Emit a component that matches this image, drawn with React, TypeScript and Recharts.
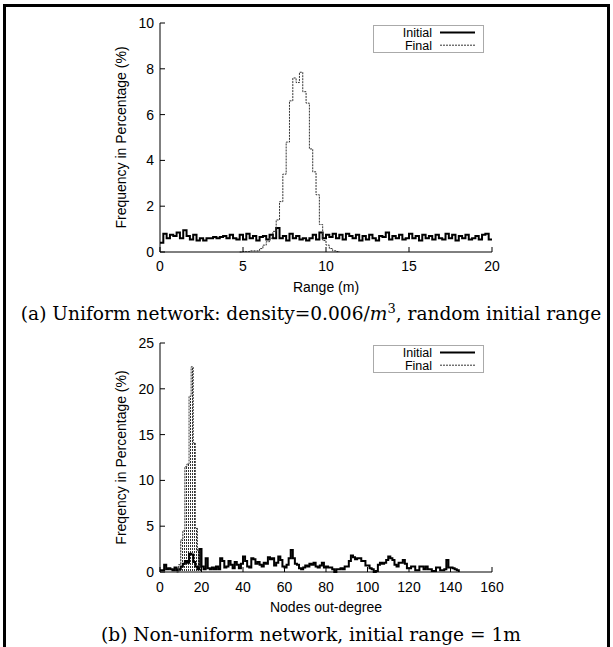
import React from "react";
import { ComposedChart, Line, Area, XAxis, YAxis, Legend } from "recharts";

// (a) range histogram, bins of 0.2 m
const RANGE_BIN = 0.2;
const rangeInitial = [
  0.4, 0.8, 0.6, 0.75, 0.7, 0.85, 0.6, 0.95, 0.7, 0.55,
  0.75, 0.5, 0.6, 0.5, 0.6, 0.6, 0.65, 0.6, 0.65, 0.7,
  0.6, 0.75, 0.6, 0.55, 0.75, 0.55, 0.8, 0.6, 0.7, 0.5,
  0.65, 0.7, 0.55, 0.75, 0.6, 1.05, 0.6, 0.7, 0.5, 0.8,
  0.6, 0.7, 0.55, 0.6, 0.5, 0.6, 0.75, 0.55, 0.85, 0.6,
  0.75, 0.65, 0.8, 0.6, 0.75, 0.55, 0.8, 0.7, 0.6, 0.75,
  0.5, 0.7, 0.55, 0.75, 0.6, 0.5, 0.7, 0.65, 0.85, 0.55,
  0.7, 0.6, 0.75, 0.55, 0.6, 0.8, 0.6, 0.7, 0.5, 0.75,
  0.6, 0.7, 0.55, 0.75, 0.6, 0.55, 0.8, 0.6, 0.75, 0.5,
  0.7, 0.6, 0.75, 0.55, 0.6, 0.7, 0.55, 0.75, 0.8, 0.55,
];
const rangeFinalStart = 24; // bin index of 4.8 m
const rangeFinal = [
  0, 0.02, 0.02, 0.05, 0.05, 0.05, 0.15, 0.3, 0.45, 0.6,
  0.9, 1.4, 2.2, 3.4, 4.8, 6.6, 7.6, 7.4, 7.85, 7.0,
  6.5, 4.5, 3.5, 2.5, 1.2, 0.5, 0.3, 0.15, 0.05, 0.02, 0,
];
const rangeTicksX = [0, 5, 10, 15, 20];
const rangeTicksY = [0, 2, 4, 6, 8, 10];

// (b) out-degree histogram, bins of 1
const degreeInitial = [
  0.2, 0.2, 0.8, 0.3, 0.4, 0.3, 0.2, 0.5, 0.2, 0.3,
  0.6, 0.9, 1.2, 1.0, 2.0, 1.9, 1.1, 0.6, 0.3, 2.5,
  0.6, 0.3, 1.5, 0.4, 0.3, 0.5, 0.3, 0.6, 0.3, 1.5,
  1.2, 0.5, 0.6, 1.2, 0.8, 0.4, 1.1, 0.8, 0.4, 0.9,
  1.7, 1.2, 0.6, 0.5, 1.5, 1.4, 0.9, 1.1, 0.8, 0.6,
  1.0, 0.9, 1.6, 1.4, 1.5, 0.7, 1.0, 1.7, 1.3, 0.6,
  0.5, 0.8, 1.5, 2.4, 1.5, 0.9, 0.8, 0.4, 0.3, 0.5,
  0.7, 0.6, 0.9, 0.8, 1.0, 0.6, 0.5, 0.7, 1.0, 0.5,
  0.6, 0.5, 0.5, 0.3, 0.0, 0.3, 0.3, 0.4, 0.3, 0.6,
  0.6, 1.2, 1.8, 1.6, 1.4, 1.5, 1.5, 1.2, 1.2, 0.7,
  0.7, 0.4, 0.3, 0.0, 0.1, 0.8, 1.0, 0.9, 1.0, 1.3,
  1.7, 1.5, 1.3, 0.8, 0.6, 1.0, 1.0, 1.3, 0.9, 0.4,
  0.4, 0.6, 0.6, 0.2, 0.2, 0.6, 0.6, 0.3, 0.6, 0.3,
  0.3, 0.1, 0.1, 0.5, 0.5, 0.2, 0.2, 0.3, 1.3, 0.5,
  0.5, 0.4, 0.3, 0.2,
];
const degreeFinalStart = 8;
const degreeFinal = [0, 0.8, 3.5, 4.5, 11.5, 11.8, 19.2, 22.4, 14.1, 4.8, 2.3, 0.5, 0];
const degreeTicksX = [0, 20, 40, 60, 80, 100, 120, 140, 160];
const degreeTicksY = [0, 5, 10, 15, 20, 25];

const seriesOrder = ["Initial", "Final"];

type Row = { x: number; initial: number | null; final: number | null };

const rangeRows: Row[] = rangeInitial.map((v, i) => ({
  x: +(i * RANGE_BIN).toFixed(1), initial: v, final: null,
}));
rangeRows.push({ x: 20, initial: rangeInitial[rangeInitial.length - 1], final: null });
rangeFinal.forEach((v, j) => { rangeRows[rangeFinalStart + j].final = v; });

const degreeRows: Row[] = degreeInitial.map((v, i) => ({ x: i, initial: v, final: null }));
degreeRows.push({ x: degreeInitial.length, initial: 0, final: null });
degreeFinal.forEach((v, j) => { degreeRows[degreeFinalStart + j].final = v; });

const FONT = "'Liberation Sans', Arial, sans-serif";
const tickStyle = { fill: "#000", fontSize: 14, fontFamily: FONT };

const LegendBox = ({ payload }: { payload?: any[] }) => {
  const items = (payload || [])
    .filter(p => p.type !== "none" && seriesOrder.includes(p.value))
    .sort((a, b) => seriesOrder.indexOf(a.value) - seriesOrder.indexOf(b.value));
  return (
    <svg width={111} height={30} style={{ display: "block", overflow: "visible" }}>
      <rect x={0.5} y={0.5} width={110} height={27} fill="#fff" stroke="#555" strokeDasharray="1 1" />
      {items.map((p, i) => (
        <g key={p.value}>
          <text x={59} y={7.6 + i * 12.6} dy="0.36em" textAnchor="end" fontSize={12.5} fontFamily={FONT}>{p.value}</text>
          <line
            x1={67} x2={102} y1={7.6 + i * 12.6} y2={7.6 + i * 12.6}
            stroke={p.color}
            strokeWidth={p.payload?.strokeDasharray ? 1 : 2}
            strokeDasharray={p.payload?.strokeDasharray}
          />
        </g>
      ))}
    </svg>
  );
};

function Histogram({ rows, ticksX, ticksY, xMax, yMax, xLabel, yLabel, tickGap, hatch, top }: {
  rows: Row[]; ticksX: number[]; ticksY: number[]; xMax: number; yMax: number;
  xLabel: string; yLabel: string; tickGap: number; hatch?: boolean; top: number;
}) {
  return (
    <div style={{ position: "absolute", left: 0, top }}>
      <ComposedChart
        width={520}
        height={322}
        data={rows}
        margin={{ top: 23, right: 28, bottom: 0, left: 82 }}
        style={{ fontFamily: FONT }}
      >
        <defs>
          <pattern id="hatch" width={2} height={3} patternUnits="userSpaceOnUse">
            <rect x={0} y={0} width={1} height={2} fill="#333" />
          </pattern>
        </defs>
        <XAxis
          dataKey="x" type="number" domain={[0, xMax]} ticks={ticksX}
          height={70} tickSize={-5} tickMargin={tickGap}
          axisLine={{ stroke: "#000" }} tickLine={{ stroke: "#000" }} tick={tickStyle}
          label={{ value: xLabel, position: "center", fill: "#000", fontSize: 14, fontFamily: FONT }}
        />
        <XAxis
          xAxisId="top" orientation="top" type="number" domain={[0, xMax]} ticks={ticksX}
          height={0} tickSize={-5} axisLine={{ stroke: "#000" }} tickLine={{ stroke: "#000" }} tick={() => null}
        />
        <YAxis
          type="number" domain={[0, yMax]} ticks={ticksY}
          width={78} tickSize={-5} tickMargin={11}
          axisLine={{ stroke: "#000" }} tickLine={{ stroke: "#000" }} tick={tickStyle}
          label={{ value: yLabel, angle: -90, position: "center", fill: "#000", fontSize: 14, fontFamily: FONT }}
        />
        <YAxis
          yAxisId="right" orientation="right" type="number" domain={[0, yMax]} ticks={ticksY}
          width={0} tickSize={-5} axisLine={{ stroke: "#000" }} tickLine={{ stroke: "#000" }} tick={() => null}
        />
        {hatch && (
          <Area
            type="stepAfter" dataKey="final" name="hatch" stroke="none" fill="url(#hatch)" fillOpacity={1}
            legendType="none" isAnimationActive={false} dot={false} activeDot={false}
          />
        )}
        <Line
          type="stepAfter" dataKey="initial" name="Initial" stroke="#000" strokeWidth={2}
          dot={false} activeDot={false} isAnimationActive={false}
        />
        <Line
          type="stepAfter" dataKey="final" name="Final" stroke="#333" strokeWidth={1}
          strokeDasharray="2 1" dot={false} activeDot={false} isAnimationActive={false}
        />
        <Legend
          layout="horizontal" verticalAlign="middle" align="center"
          content={<LegendBox />}
          wrapperStyle={{ left: 373, top: 25, width: 111, height: 30, bottom: "auto" }}
        />
      </ComposedChart>
    </div>
  );
}

const captionStyle: React.CSSProperties = {
  position: "absolute", left: 0, width: 622, height: 22, lineHeight: "22px",
  textAlign: "center", fontFamily: "'DejaVu Serif', serif", fontSize: 18.6, color: "#000",
  whiteSpace: "nowrap",
};

export default function App() {
  return (
    <div style={{ position: "absolute", left: 0, top: 0, width: 613, height: 647, background: "#fff", overflow: "hidden" }}>
      <div style={{
        position: "absolute", left: 3, top: 4, width: 601, height: 660,
        borderTop: "3px solid #000", borderLeft: "3px solid #000", borderRight: "3px solid #000",
      }} />
      <Histogram
        rows={rangeRows} ticksX={rangeTicksX} ticksY={rangeTicksY} xMax={20} yMax={10}
        xLabel="Range (m)" yLabel="Frequency in Percentage (%)" tickGap={14} top={0}
      />
      <div style={{ ...captionStyle, top: 303 }}>
        (a) Uniform network: density=0.006/<i>m</i>
        <sup style={{ fontSize: 13, lineHeight: 0 }}>3</sup>, random initial range
      </div>
      <Histogram
        rows={degreeRows} ticksX={degreeTicksX} ticksY={degreeTicksY} xMax={160} yMax={25}
        xLabel="Nodes out-degree" yLabel="Freqency in Percentage (%)" tickGap={15} hatch top={320}
      />
      <div style={{ ...captionStyle, top: 624 }}>
        (b) Non-uniform network, initial range = 1m
      </div>
    </div>
  );
}
